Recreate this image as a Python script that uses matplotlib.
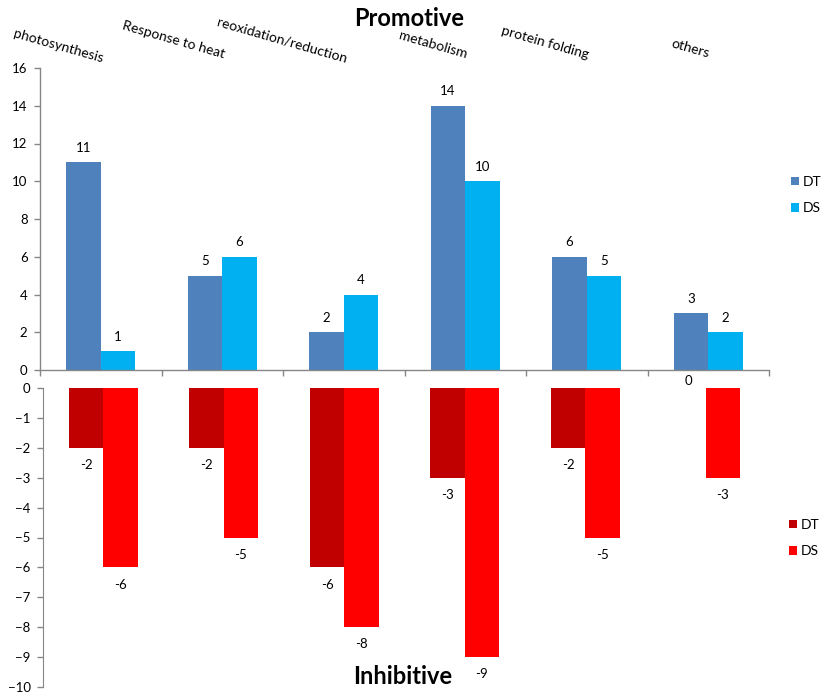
import numpy as np
import matplotlib
matplotlib.use("Agg")
import matplotlib.pyplot as plt

plt.rcParams['font.family'] = ['Lato', 'DejaVu Sans']

categories = ["photosynthesis", "Response to heat", "reoxidation/reduction",
              "metabolism", "protein folding", "others"]
series_names = ["DT", "DS"]

promotive_dt = [11, 5, 2, 14, 6, 3]
promotive_ds = [1, 6, 4, 10, 5, 2]
inhibitive_dt = [-2, -2, -6, -3, -2, 0]
inhibitive_ds = [-6, -5, -8, -9, -5, -3]

top_ticks = [0, 2, 4, 6, 8, 10, 12, 14, 16]
bottom_ticks = [0, -1, -2, -3, -4, -5, -6, -7, -8, -9, -10]

# category label anchors (figure pixels from top-left) and rotation
label_anchor_px = [(58, 46), (174, 40), (282, 40), (433, 45), (545, 43), (690, 49)]
label_rotation = -16

W, H = 822, 694
fig = plt.figure(figsize=(W / 100, H / 100), dpi=100)

blue_dt, blue_ds = "#4F81BD", "#00B0F0"
red_dt, red_ds = "#C00000", "#FF0000"
spine_col = "#868686"
fs = 9.5
bar_w = 0.285


def px_rect(l, t, r, b):
    return [l / W, 1 - b / H, (r - l) / W, (b - t) / H]


ax_top = fig.add_axes(px_rect(40, 68, 769, 370))
ax_bot = fig.add_axes(px_rect(43, 388, 766, 687))

x = np.arange(len(categories)) + 0.5


def label_bars(ax, bars, values):
    for b, v in zip(bars, values):
        cx = b.get_x() + b.get_width() / 2
        if v > 0:
            off, va = 6, 'bottom'
        elif v < 0:
            off, va = -8, 'top'
        else:
            off, va = 0.5, 'bottom'
        ax.annotate(f"{v}", (cx, v), xytext=(0, off), textcoords='offset points',
                    ha='center', va=va, fontsize=fs, color='black',
                    annotation_clip=False)


# promotive panel
b1 = ax_top.bar(x - bar_w / 2, promotive_dt, bar_w, color=blue_dt, label=series_names[0])
b2 = ax_top.bar(x + bar_w / 2, promotive_ds, bar_w, color=blue_ds, label=series_names[1])
label_bars(ax_top, b1, promotive_dt)
label_bars(ax_top, b2, promotive_ds)
ax_top.set_xlim(0, len(categories))
ax_top.set_ylim(0, 16)
ax_top.set_yticks(top_ticks)
ax_top.set_xticks(np.arange(len(categories) + 1))
ax_top.set_xticklabels([])
for s in ['top', 'right']:
    ax_top.spines[s].set_visible(False)
for s in ['left', 'bottom']:
    ax_top.spines[s].set_color(spine_col)
    ax_top.spines[s].set_linewidth(1.0)
ax_top.tick_params(axis='both', colors=spine_col, labelcolor='black',
                   labelsize=fs, length=4, width=1.0, direction='out', pad=5)

# inhibitive panel
b3 = ax_bot.bar(x - bar_w / 2, inhibitive_dt, bar_w, color=red_dt, label=series_names[0])
b4 = ax_bot.bar(x + bar_w / 2, inhibitive_ds, bar_w, color=red_ds, label=series_names[1])
label_bars(ax_bot, b3, inhibitive_dt)
label_bars(ax_bot, b4, inhibitive_ds)
ax_bot.set_xlim(0, len(categories))
ax_bot.set_ylim(-10, 0)
ax_bot.set_yticks(bottom_ticks)
ax_bot.set_xticks([])
for s in ['top', 'right', 'bottom']:
    ax_bot.spines[s].set_visible(False)
ax_bot.spines['left'].set_color(spine_col)
ax_bot.tick_params(axis='y', colors=spine_col, labelcolor='black',
                   labelsize=fs, length=4, width=1.0, direction='out', pad=5)

# legends
leg_kw = dict(frameon=False, fontsize=fs + 0.5, handlelength=0.55, handleheight=0.55,
              handletextpad=0.3, labelspacing=1.05, borderpad=0, borderaxespad=0,
              loc='center left', bbox_transform=fig.transFigure)
ax_top.legend(bbox_to_anchor=(791 / W, 1 - 195 / H), **leg_kw)
ax_bot.legend(bbox_to_anchor=(789 / W, 1 - 538 / H), **leg_kw)

# category labels
for name, (px, py) in zip(categories, label_anchor_px):
    fig.text(px / W, 1 - py / H, name, rotation=label_rotation, rotation_mode='anchor',
             ha='center', va='center', fontsize=10, color='black')

fig.text(409 / W, 1 - 19 / H, "Promotive", ha='center', va='center',
         fontsize=17, fontweight='bold', color='black')
fig.text(403 / W, 1 - 676 / H, "Inhibitive", ha='center', va='center',
         fontsize=17, fontweight='bold', color='black')

fig.savefig("out.png", dpi=100, facecolor='white')
